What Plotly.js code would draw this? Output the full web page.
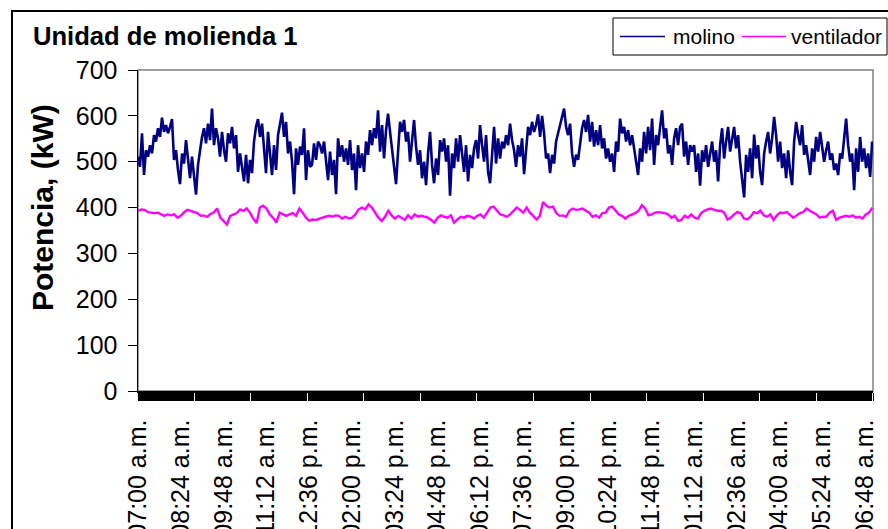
<!DOCTYPE html>
<html>
<head>
<meta charset="utf-8">
<script src="https://cdn.plot.ly/plotly-3.0.1.min.js"></script>
<style>
  html, body { margin: 0; padding: 0; width: 888px; height: 529px; overflow: hidden; background: #fff; }
  #frame { position: absolute; left: 11px; top: 10px; width: 1000px; height: 1000px; border: 2px solid #000; box-sizing: border-box; }
  #chart { position: absolute; left: 0; top: 0; width: 888px; height: 529px; }
</style>
</head>
<body>
<div id="frame"></div>
<div id="chart"></div>
<script>
// Sampling: minutes after 07:00 a.m. of the first reading and interval between readings
const startMinute = 0;
const molinoStepMin = 3.93;
const ventiladorStepMin = 6.47;

// Power drawn by the mill motor, kW
const molino = [
  511, 489, 562, 471, 525, 511, 536, 518, 558, 544,
  573, 554, 596, 565, 580, 562, 576, 593, 504, 525,
  482, 451, 518, 496, 547, 507, 464, 511, 471, 428,
  493, 529, 554, 573, 540, 583, 547, 616, 536, 573,
  551, 511, 565, 525, 500, 562, 540, 576, 529, 558,
  478, 518, 489, 457, 515, 453, 504, 475, 544, 576,
  593, 554, 583, 536, 475, 565, 515, 471, 536, 482,
  558, 580, 607, 554, 587, 518, 544, 500, 429, 529,
  493, 533, 515, 573, 460, 525, 489, 493, 540, 504,
  544, 536,
  518, 544, 507, 460, 522, 471, 504, 429, 551, 511,
  536, 500, 529, 493, 547, 482, 518, 438, 536, 486,
  518, 478, 544, 515, 569, 536, 573, 551, 612, 522,
  580, 507, 569, 605, 565, 529, 486, 451, 522, 587,
  565, 591, 544, 565, 500, 551, 591, 533, 493, 525,
  464, 500, 449, 518, 565, 493, 453, 507, 471, 547,
  522, 551, 500, 536, 426, 518, 486, 551, 500, 558,
  518, 478, 536, 457, 515, 486, 529, 547, 507, 580,
  536, 500, 558, 478, 453, 525, 576, 496, 551, 507,
  544, 529,
  558, 536, 583, 547, 525, 489, 536, 511, 551, 473,
  536, 576, 558, 587, 565, 580, 603, 554, 600, 562,
  507, 518, 475, 515, 496, 544, 562, 580, 594, 616,
  576, 558, 583, 518, 489, 515, 504, 544, 573, 591,
  565, 602, 544, 587, 533, 569, 536, 580, 529, 551,
  507, 529, 500, 518, 478, 544, 522, 594, 562, 576,
  544, 569, 536, 558, 525, 504, 471, 529, 500, 565,
  518, 576, 525, 594, 493, 558, 536, 576, 612, 551,
  573, 518, 536, 493, 551, 573, 536, 576, 583, 511,
  544, 493, 536,
  522, 536, 478, 518, 448, 525, 500, 536, 489, 518,
  544, 500, 525, 457, 536, 573, 507, 544, 576, 522,
  551, 576, 529, 558, 500, 464, 422, 515, 478, 529,
  464, 559, 507, 536, 478, 449, 518, 544, 565, 518,
  551, 598, 558, 500, 544, 486, 518, 464, 525, 478,
  449, 544, 587, 558, 536, 580, 515, 536, 500, 471,
  529, 500, 554, 522, 565, 533, 500, 525, 544, 504,
  518, 482, 496, 471, 518, 507, 558, 594, 536, 500,
  518, 438, 529, 478, 554, 500, 529, 486, 518, 467,
  544
];

// Power drawn by the fan motor, kW
const ventilador = [
  393, 396, 395, 390, 389, 388, 389, 385, 382, 385,
  383, 385, 378, 382, 390, 395, 393, 390, 388, 382,
  383, 380, 386, 389, 398, 378, 371, 363, 382, 385,
  388, 396, 393, 398, 389, 376, 366, 400, 404, 398,
  385, 378, 367, 389, 385, 382, 385, 388, 382, 398,
  389, 378, 371, 374, 373, 376,
  378, 380, 382, 380, 383, 382, 376, 380, 376, 378,
  385, 396, 400, 396, 407, 400, 389, 378, 371, 380,
  393, 383, 376, 382, 378, 373, 383, 376, 385, 380,
  382, 380, 378, 373, 367, 378, 383, 380, 378, 383,
  367, 374, 380, 378, 382, 380, 376, 382, 385, 378,
  389, 400, 402, 393, 385, 383,
  380, 385, 393, 400, 395, 389, 400, 389, 382, 374,
  382, 412, 404, 400, 402, 388, 382, 383, 380, 393,
  398, 395, 396, 398, 393, 389, 380, 383, 378, 388,
  389, 400, 402, 393, 385, 382, 376, 382, 385, 388,
  393, 405, 398, 383, 385, 389, 390, 389, 388, 385,
  378, 382, 371, 373, 382, 378,
  385, 378, 376, 388, 393, 396, 398, 395, 393, 393,
  389, 374, 378, 385, 390, 388, 376, 374, 380, 390,
  388, 393, 383, 380, 385, 373, 383, 389, 388, 390,
  385, 378, 383, 388, 390, 398, 393, 389, 385, 378,
  380, 380, 389, 393, 373, 378, 380, 382, 380, 383,
  378, 380, 376, 385, 389, 400
];

// Category labels, one every 84 minutes from 07:00 a.m.
const tickLabels = [
  "07:00 a.m.", "08:24 a.m.", "09:48 a.m.", "11:12 a.m.", "12:36 p.m.",
  "02:00 p.m.", "03:24 p.m.", "04:48 p.m.", "06:12 p.m.", "07:36 p.m.",
  "09:00 p.m.", "10:24 p.m.", "11:48 p.m.", "01:12 a.m.", "02:36 a.m.",
  "04:00 a.m.", "05:24 a.m.", "06:48 a.m."
];
const labelIntervalMin = 84;

const yTicks = [0, 100, 200, 300, 400, 500, 600, 700];

const seriesNames = ["molino", "ventilador"];
const seriesColors = ["#000080", "#FF00FF"];

const times = (n, step) => Array.from({ length: n }, (_, i) => startMinute + i * step);

const FONT = "'Liberation Sans', Arial, sans-serif";

// Plot area in pixels, used to place the legend box in paper coordinates
const PLOT = { left: 138, right: 873, top: 70, bottom: 391 };
const px = (x) => (x - PLOT.left) / (PLOT.right - PLOT.left);
const py = (y) => (PLOT.bottom - y) / (PLOT.bottom - PLOT.top);

const traces = [
  {
    name: seriesNames[0],
    x: times(molino.length, molinoStepMin),
    y: molino,
    type: "scatter",
    mode: "lines",
    line: { color: seriesColors[0], width: 2.6 },
    showlegend: false
  },
  {
    name: seriesNames[1],
    x: times(ventilador.length, ventiladorStepMin),
    y: ventilador,
    type: "scatter",
    mode: "lines",
    line: { color: seriesColors[1], width: 2.4 },
    showlegend: false
  }
];

// Legend: framed box with a line sample and a label for each series
const legendBox = { x0: 613, x1: 887, y0: 18, y1: 55 };
const legendItems = [
  { lineX0: 620, lineX1: 665, textX: 671 },
  { lineX0: 742, lineX1: 786, textX: 789 }
];
const legendMidY = (legendBox.y0 + legendBox.y1) / 2;

const shapes = [
  {
    type: "rect", xref: "paper", yref: "paper", x0: 0, x1: 1, y0: 0, y1: 1,
    line: { color: "#808080", width: 1.5 }, layer: "below"
  },
  {
    type: "rect", xref: "paper", yref: "paper",
    x0: px(legendBox.x0), x1: px(legendBox.x1), y0: py(legendBox.y1), y1: py(legendBox.y0),
    line: { color: "#000", width: 1 }, fillcolor: "#fff", layer: "above"
  }
];
const annotations = [];
legendItems.forEach((it, i) => {
  shapes.push({
    type: "line", xref: "paper", yref: "paper",
    x0: px(it.lineX0), x1: px(it.lineX1), y0: py(legendMidY), y1: py(legendMidY),
    line: { color: seriesColors[i], width: 1.6 }, layer: "above"
  });
  annotations.push({
    xref: "paper", yref: "paper", x: px(it.textX), y: py(legendMidY),
    xanchor: "left", yanchor: "middle", showarrow: false,
    text: seriesNames[i],
    font: { family: FONT, size: 21, color: "#000" }
  });
});

// Y axis title
annotations.push({
  xref: "paper", yref: "paper", x: px(42), y: py(207),
  xanchor: "center", yanchor: "middle", showarrow: false, textangle: -90,
  text: "<b>Potencia, (kW)</b>",
  font: { family: FONT, size: 30, color: "#000" }
});

const layout = {
  width: 888,
  height: 529,
  margin: { l: 138, r: 15, t: 70, b: 138 },
  paper_bgcolor: "rgba(0,0,0,0)",
  plot_bgcolor: "#ffffff",
  font: { family: FONT, color: "#000" },
  showlegend: false,
  title: {
    text: "<b>Unidad de molienda 1</b>",
    font: { family: FONT, size: 25.6, color: "#000" },
    xref: "container", x: 33 / 888, xanchor: "left",
    yref: "container", y: 1 - 36 / 529, yanchor: "middle"
  },
  xaxis: {
    range: [0, 1444],
    tickmode: "array",
    tickvals: tickLabels.map((_, i) => i * labelIntervalMin),
    ticktext: tickLabels,
    tickangle: -90,
    tickfont: { family: FONT, size: 25, color: "#000" },
    ticklabelstandoff: 9,
    ticks: "outside",
    ticklen: 8,
    tickwidth: 1,
    tickcolor: "#000",
    minor: { tickmode: "linear", tick0: 0, dtick: 2, ticks: "outside", ticklen: 8, tickwidth: 1, tickcolor: "#000", showgrid: false },
    showline: true,
    linecolor: "#000",
    linewidth: 1.5,
    showgrid: false,
    zeroline: false,
    fixedrange: true
  },
  yaxis: {
    range: [0, 700],
    tickmode: "array",
    tickvals: yTicks,
    ticktext: yTicks.map(String),
    tickfont: { family: FONT, size: 25, color: "#000" },
    ticklabelstandoff: 5,
    ticks: "outside",
    ticklen: 9,
    tickwidth: 1,
    tickcolor: "#000",
    showline: true,
    linecolor: "#000",
    linewidth: 1.5,
    showgrid: false,
    zeroline: false,
    fixedrange: true
  },
  shapes: shapes,
  annotations: annotations
};

Plotly.newPlot("chart", traces, layout, { displayModeBar: false, staticPlot: true });
</script>
</body>
</html>
